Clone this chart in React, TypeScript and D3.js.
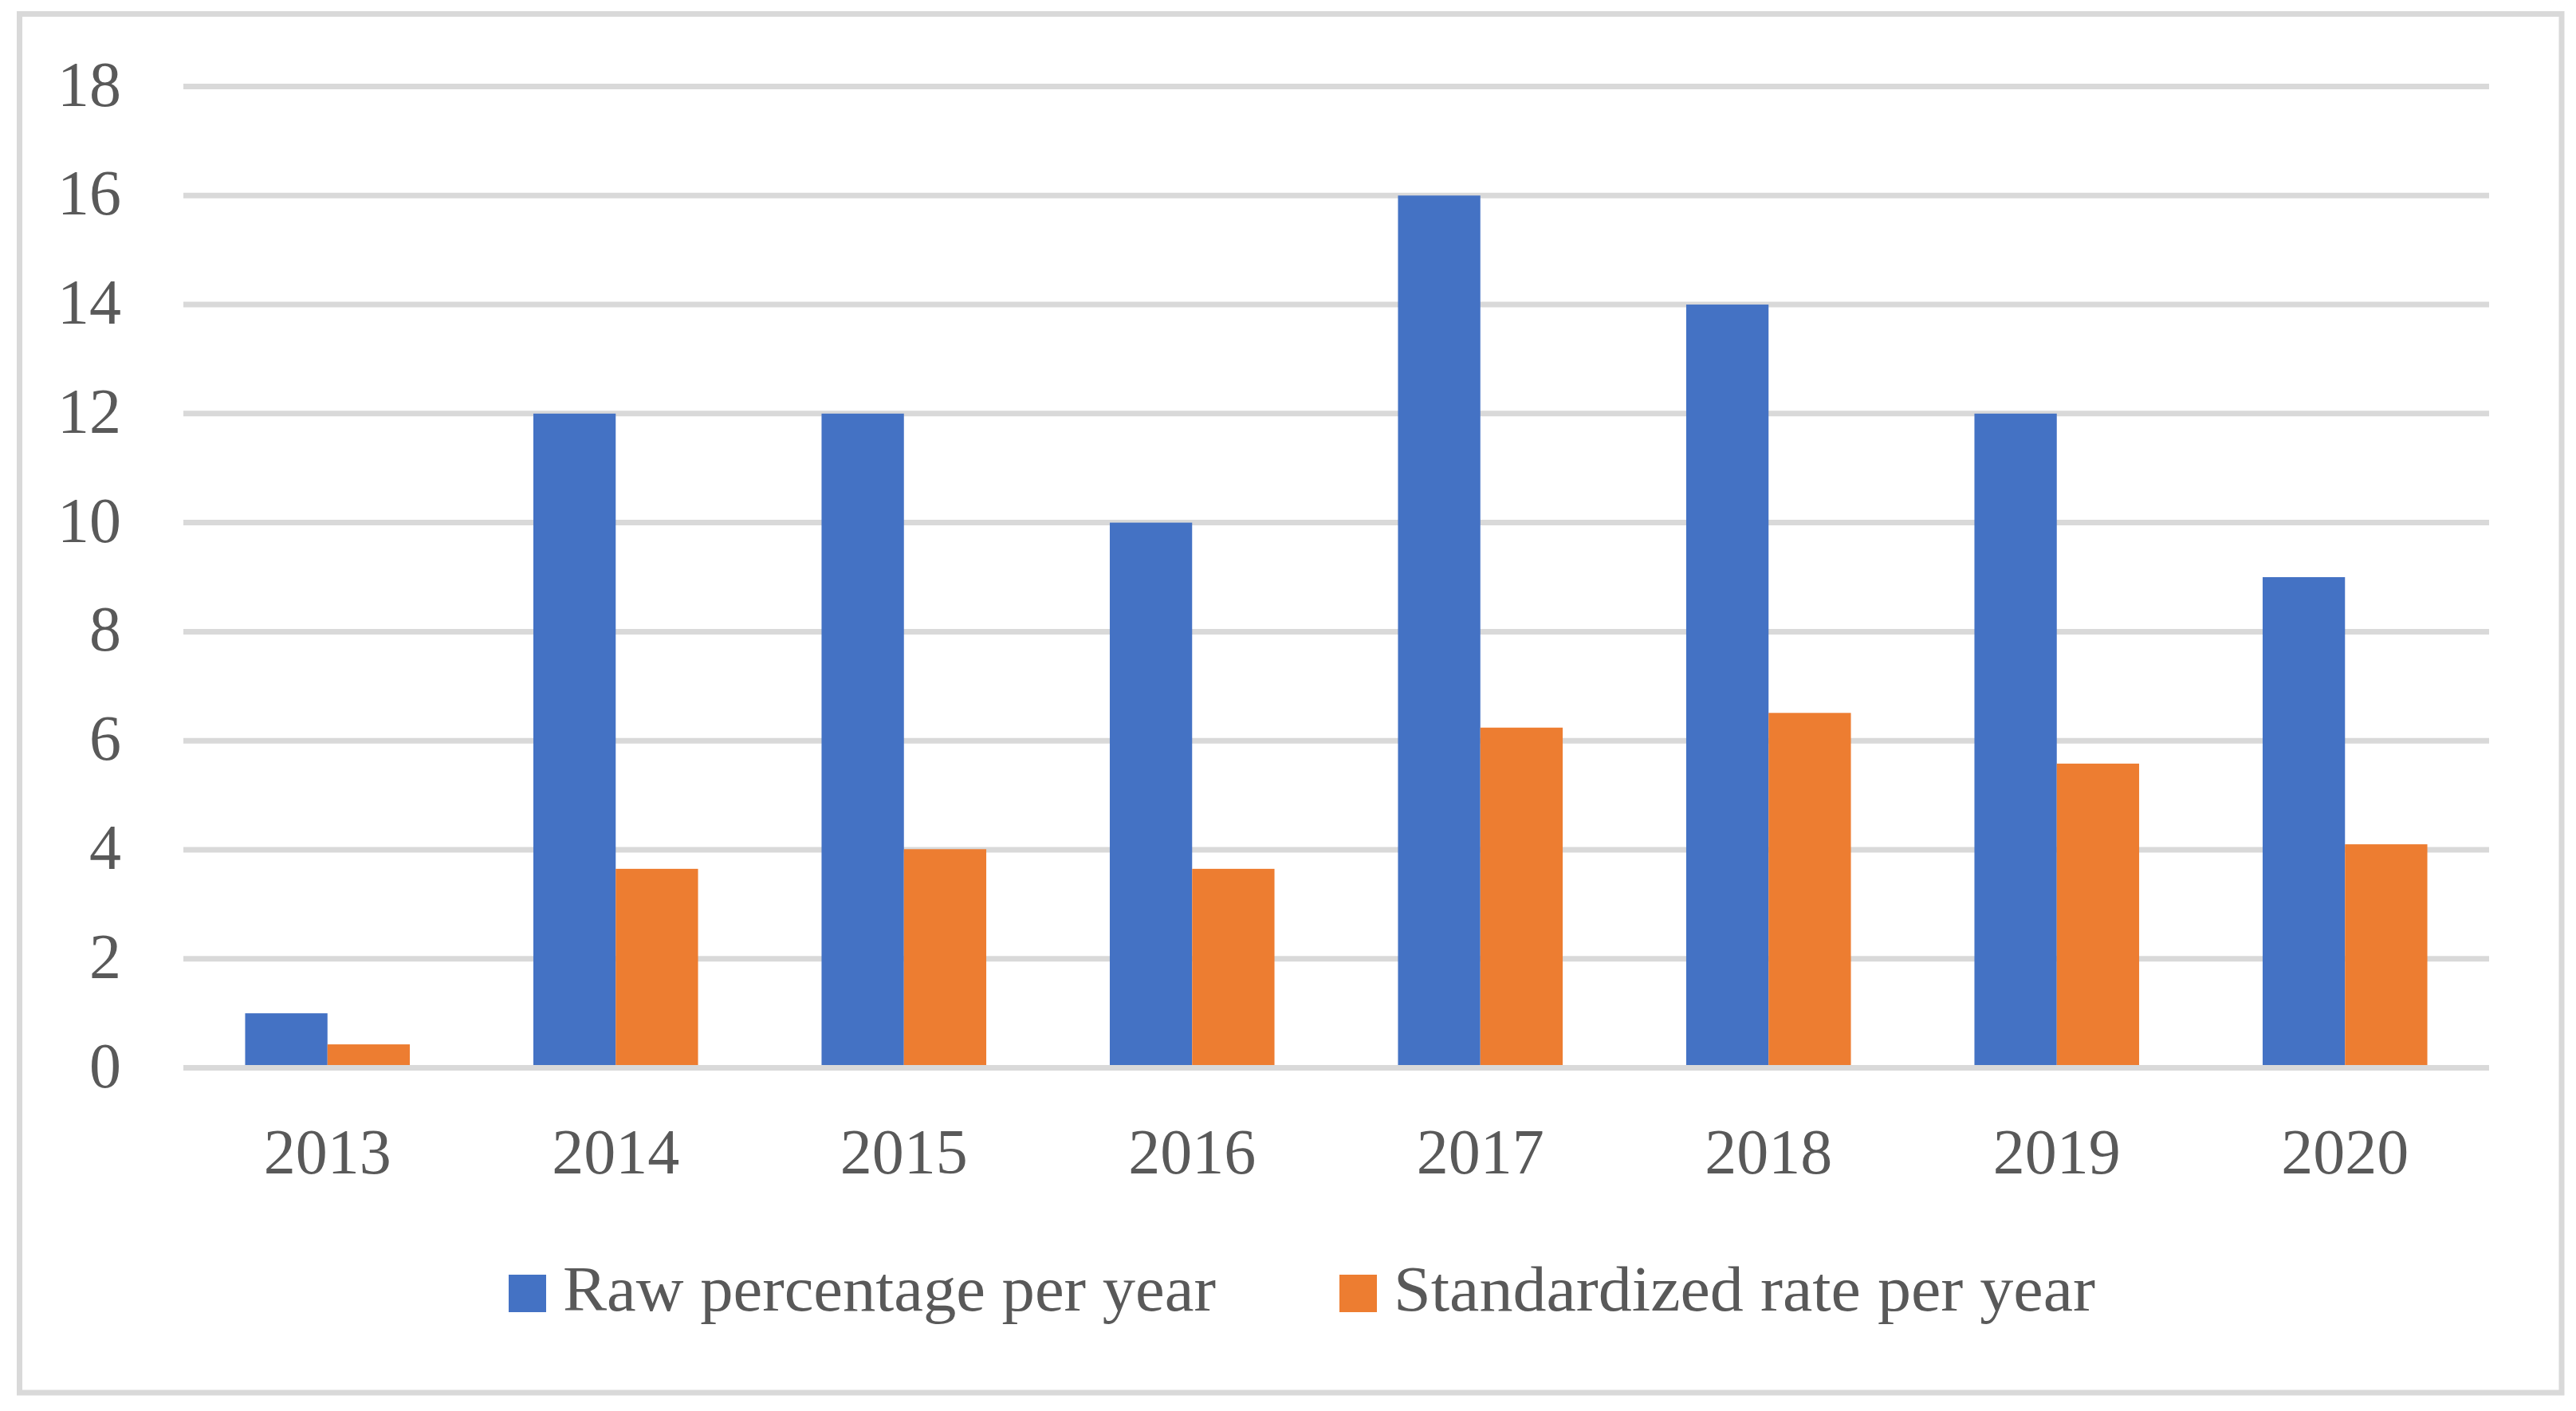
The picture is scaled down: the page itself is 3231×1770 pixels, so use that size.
import React from "react";
import * as d3 from "d3";

const years = ["2013", "2014", "2015", "2016", "2017", "2018", "2019", "2020"];
const rawPercentage = [1, 12, 12, 10, 16, 14, 12, 9];
const standardizedRate = [0.43, 3.65, 4.01, 3.65, 6.24, 6.51, 5.58, 4.1];
const seriesNames = ["Raw percentage per year", "Standardized rate per year"];
const seriesColors = ["#4472C4", "#ED7D31"];
const yTicks = [0, 2, 4, 6, 8, 10, 12, 14, 16, 18];

const W = 3231;
const H = 1770;
const font = "'Palatino Linotype', 'Book Antiqua', Palatino, 'Liberation Serif', serif";
const textColor = "#595959";
const gridColor = "#D9D9D9";

const App: React.FC = () => {
  // plot area
  const left = 230;
  const right = 3122;

  const x = d3.scaleBand<string>().domain(years).range([left, right]).paddingInner(0).paddingOuter(0);
  // gap width 150% -> padding of 0.75 bar on each side
  const xInner = d3
    .scaleBand<string>()
    .domain(seriesNames)
    .range([0, x.bandwidth()])
    .paddingInner(0)
    .paddingOuter(0.75);
  const y = d3.scaleLinear().domain([0, 18]).range([1339.5, 108.5]);

  const series = [rawPercentage, standardizedRate];

  // legend item x positions and text widths (Palatino is wider than the fallback)
  const legendX = [638, 1680];
  const legendTextLen = [819, 880];

  return (
    <svg
      width={W}
      height={H}
      style={{ position: "absolute", left: 0, top: 0, display: "block", background: "#fff" }}
    >
      {/* chart frame */}
      <rect x={24.5} y={17.5} width={3213 - 24.5} height={1747 - 17.5} fill="#fff" stroke={gridColor} strokeWidth={7} />

      {/* gridlines */}
      {yTicks.filter((t) => t !== 0).map((t) => (
        <line key={t} x1={left} x2={right} y1={y(t)} y2={y(t)} stroke={gridColor} strokeWidth={7} />
      ))}

      {/* bars */}
      {series.map((vals, si) =>
        vals.map((v, i) => (
          <rect
            key={`${si}-${i}`}
            x={x(years[i])! + xInner(seriesNames[si])!}
            y={y(v)}
            width={xInner.bandwidth()}
            height={y(0) - y(v)}
            fill={seriesColors[si]}
          />
        ))
      )}

      {/* baseline */}
      <line x1={left} x2={right} y1={y(0)} y2={y(0)} stroke={gridColor} strokeWidth={7} />

      {/* y tick labels */}
      {yTicks.map((t) => (
        <text key={t} x={152} y={y(t) + 24} textAnchor="end" fontFamily={font} fontSize={80} fill={textColor}>
          {t}
        </text>
      ))}

      {/* x tick labels */}
      {years.map((yr) => (
        <text
          key={yr}
          x={x(yr)! + x.bandwidth() / 2}
          y={1472}
          textAnchor="middle"
          fontFamily={font}
          fontSize={80}
          fill={textColor}
        >
          {yr}
        </text>
      ))}

      {/* legend */}
      {seriesNames.map((name, i) => {
        const lx = legendX[i];
        return (
          <g key={name}>
            <rect x={lx} y={1599} width={47} height={47} fill={seriesColors[i]} />
            <text
              x={lx + 68}
              y={1644}
              fontFamily={font}
              fontSize={81}
              fill={textColor}
              textLength={legendTextLen[i]}
              lengthAdjust="spacingAndGlyphs"
            >
              {name}
            </text>
          </g>
        );
      })}
    </svg>
  );
};

export default App;
